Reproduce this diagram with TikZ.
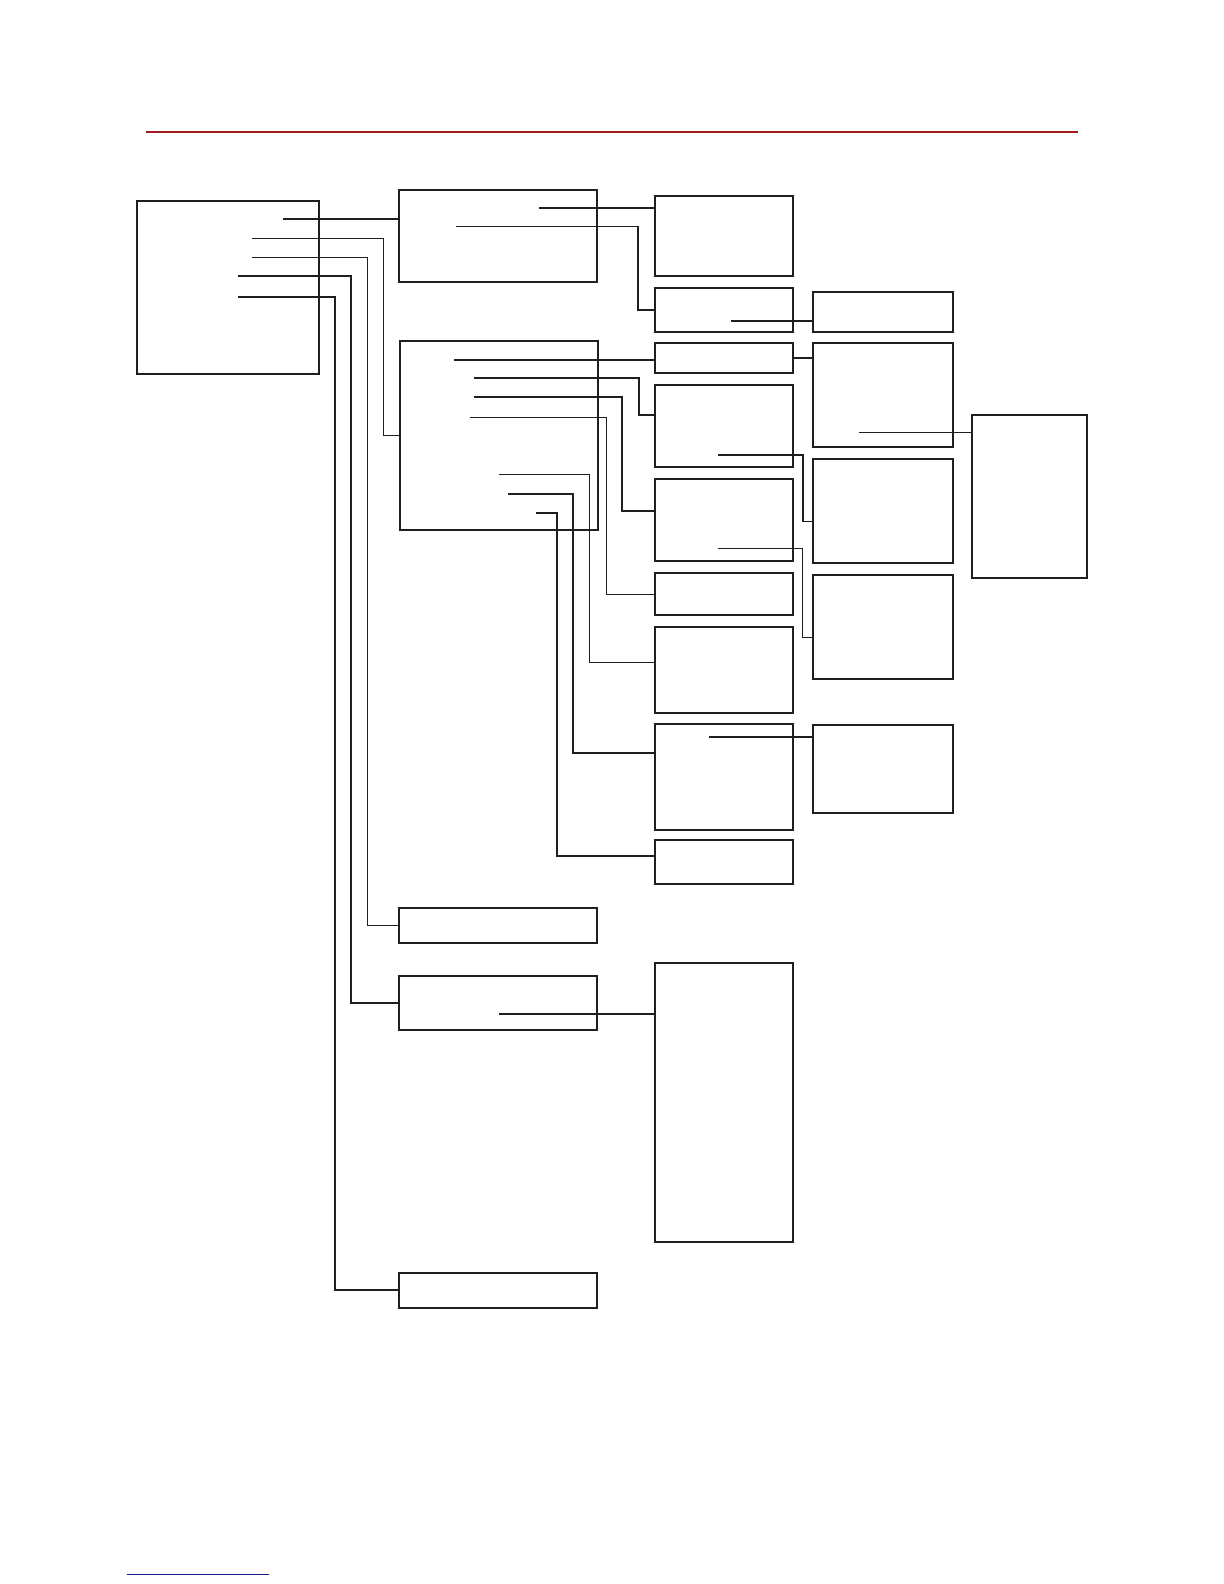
\documentclass[tikz,border=0pt]{standalone}
\usepackage{tikz}
\usetikzlibrary{calc,fit}

\begin{document}
\begin{tikzpicture}[
x=0.5pt, y=-0.5pt,
box/.style={draw=black!88, line width=1pt, inner sep=0pt, outer sep=0pt},
link/.style={draw=black!88, line width=0.95pt},
thin link/.style={draw=black!88, line width=0.5pt}
]
\useasboundingbox (0,0) rectangle (1224,1584);

\draw[line width=1.2pt, color={rgb,255:red,160;green,28;blue,28}] (146,132.3) -- (1078,132.3);
\draw[line width=0.7pt, color={rgb,255:red,26;green,26;blue,140}] (126.7,1574.7) -- (269,1574.7);

\node[box, fit={(136.7,201) (319,373.7)}] (A) {};
\node[box, fit={(399.3,190) (597,282)}] (B) {};
\node[box, fit={(400,341) (597.7,530.3)}] (C) {};
\node[box, fit={(655,195.7) (792.7,276.3)}] (D1) {};
\node[box, fit={(655,288) (792.7,332)}] (D2) {};
\node[box, fit={(655.3,343) (793.3,373.3)}] (E1) {};
\node[box, fit={(655.3,385) (793.3,466.7)}] (E2) {};
\node[box, fit={(655.3,479) (793.3,561.3)}] (E3) {};
\node[box, fit={(655.3,573) (793.3,615.3)}] (E4) {};
\node[box, fit={(655.3,627) (793.3,713.3)}] (E5) {};
\node[box, fit={(655.3,723.7) (793.3,829.7)}] (E6) {};
\node[box, fit={(655.3,840) (793.3,883.7)}] (E7) {};
\node[box, fit={(812.7,291.7) (953.3,332)}] (F1) {};
\node[box, fit={(812.7,343) (953.3,447)}] (F2) {};
\node[box, fit={(812.7,458.7) (953.3,563.3)}] (F3) {};
\node[box, fit={(812.7,574.7) (953.3,679)}] (F4) {};
\node[box, fit={(812.7,724.7) (953.3,813)}] (F5) {};
\node[box, fit={(972.3,415.3) (1087,577.7)}] (G) {};
\node[box, fit={(399.3,908) (597,943.3)}] (H1) {};
\node[box, fit={(399.3,976) (597,1030.3)}] (H2) {};
\node[box, fit={(399.3,1272.7) (597,1308)}] (H3) {};
\node[box, fit={(655.3,962.7) (793.3,1242)}] (I) {};

\coordinate (s1) at (283.3,219);
\coordinate (s2) at (252,238);
\coordinate (s3) at (252,257.3);
\coordinate (s4) at (238.3,276.3);
\coordinate (s5) at (238.3,297);
\coordinate (t1) at (539.3,208);
\coordinate (t2) at (456,226.5);
\coordinate (u1) at (454,360);
\coordinate (u2) at (474,378);
\coordinate (u3) at (474,397);
\coordinate (u4) at (470,417.3);
\coordinate (u5) at (499,474);
\coordinate (u6) at (508,493.7);
\coordinate (u7) at (536,512.7);
\coordinate (v1) at (731,321);
\coordinate (v2) at (859.3,432.3);
\coordinate (v3) at (718,455);
\coordinate (v4) at (718,548.3);
\coordinate (v5) at (709,737);
\coordinate (v6) at (499,1013.7);

\draw[link] (s1) -- (s1 -| B.west);
\draw[thin link] (s2) -- ++(131.3,0) |- (C.west);
\draw[thin link] (s3) -- ++(115.3,0) |- (H1.west);
\draw[link] (s4) -- ++(112.4,0) |- (H2.west);
\draw[link] (s5) -- ++(96.4,0) |- (H3.west);

\draw[link] (t1) -- (t1 -| D1.west);
\draw[link] (t2) -- ++(182.3,0) |- (D2.west);

\draw[link] (u1) -- (u1 -| E1.west);
\draw[link] (u2) -- ++(165,0) |- ($(E2.north west)!.37!(E2.south west)$);
\draw[link] (u3) -- ++(148.3,0) |- ($(E3.north west)!.39!(E3.south west)$);
\draw[thin link] (u4) -- ++(136.3,0) |- (E4.west);
\draw[thin link] (u5) -- ++(90.7,0) |- ($(E5.north west)!.41!(E5.south west)$);
\draw[link] (u6) -- ++(65.3,0) |- ($(E6.north west)!.28!(E6.south west)$);
\draw[link] (u7) -- ++(21,0) |- ($(E7.north west)!.37!(E7.south west)$);

\draw[link] (v1) -- (v1 -| F1.west);
\draw[link] (E1.east) -- (E1.east -| F2.west);
\draw[thin link] (v2) -- (v2 -| G.west);
\draw[link] (v3) -- ++(85,0) |- ($(F3.north west)!.6!(F3.south west)$);
\draw[thin link] (v4) -- ++(84.7,0) |- ($(F4.north west)!.6!(F4.south west)$);
\draw[link] (v5) -- (v5 -| F5.west);
\draw[link] (v6) -- (v6 -| I.west);
\end{tikzpicture}
\end{document}
